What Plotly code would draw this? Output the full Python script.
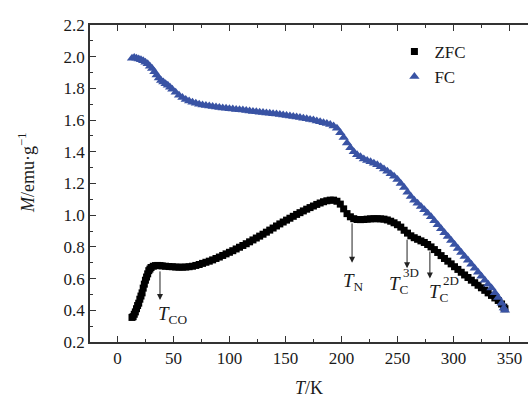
import plotly.graph_objects as go

# ZFC data (black squares)
zfc_T = [13,14,15,16,17,18,19,20,21,22,23,24,25,26,27,28,29,30,32,34,36,38,40,43,46,49,52,55,58,61,64,67,70,73,76,79,82,85,88,91,94,97,100,103,106,109,112,115,118,121,124,127,130,133,136,139,142,145,148,151,154,157,160,163,166,169,172,175,178,181,184,187,190,193,196,199,202,205,208,211,214,217,220,223,226,229,232,235,238,241,244,247,250,253,256,259,262,265,268,271,274,277,280,283,286,289,292,295,298,301,304,307,310,313,316,319,322,325,328,331,334,337,340,343,345,346]
zfc_M = [0.355,0.36,0.375,0.39,0.41,0.43,0.445,0.47,0.49,0.51,0.54,0.565,0.59,0.61,0.63,0.65,0.66,0.67,0.678,0.682,0.683,0.682,0.68,0.678,0.676,0.675,0.673,0.672,0.672,0.673,0.675,0.678,0.683,0.689,0.696,0.703,0.71,0.718,0.727,0.736,0.746,0.756,0.766,0.776,0.787,0.798,0.809,0.82,0.832,0.844,0.856,0.868,0.88,0.893,0.906,0.919,0.932,0.945,0.957,0.969,0.981,0.993,1.005,1.016,1.027,1.038,1.048,1.058,1.068,1.077,1.085,1.091,1.095,1.095,1.088,1.07,1.04,1.01,0.99,0.978,0.973,0.972,0.973,0.975,0.977,0.978,0.978,0.977,0.975,0.97,0.962,0.952,0.94,0.925,0.905,0.887,0.87,0.858,0.848,0.838,0.828,0.815,0.8,0.783,0.765,0.745,0.727,0.71,0.693,0.675,0.658,0.64,0.623,0.607,0.59,0.574,0.558,0.542,0.526,0.51,0.494,0.478,0.462,0.44,0.42,0.41]

# FC data (blue triangles)
fc_T = [13,15,17,19,21,23,25,27,29,31,33,35,37,39,41,43,45,47,49,52,55,58,61,64,67,70,73,76,79,82,85,88,91,94,97,100,103,106,109,112,115,118,121,124,127,130,133,136,139,142,145,148,151,154,157,160,163,166,169,172,175,178,181,184,187,190,193,196,199,202,205,208,211,214,217,220,223,226,229,232,235,238,241,244,247,250,253,256,259,262,265,268,271,274,277,280,283,286,289,292,295,298,301,304,307,310,313,316,319,322,325,328,331,334,337,340,343,345,346]
fc_M = [1.99,1.995,1.99,1.985,1.98,1.975,1.965,1.955,1.94,1.925,1.905,1.885,1.865,1.85,1.84,1.83,1.82,1.808,1.795,1.775,1.757,1.742,1.73,1.72,1.712,1.706,1.7,1.696,1.692,1.689,1.686,1.683,1.68,1.677,1.675,1.672,1.67,1.667,1.665,1.663,1.66,1.658,1.655,1.653,1.65,1.648,1.645,1.643,1.64,1.638,1.635,1.632,1.629,1.626,1.623,1.62,1.616,1.612,1.608,1.604,1.6,1.595,1.59,1.584,1.578,1.572,1.563,1.548,1.52,1.49,1.455,1.425,1.4,1.382,1.368,1.355,1.345,1.337,1.328,1.318,1.306,1.292,1.278,1.262,1.245,1.225,1.2,1.175,1.145,1.118,1.095,1.075,1.055,1.035,1.013,0.99,0.965,0.94,0.915,0.89,0.865,0.84,0.815,0.79,0.765,0.74,0.715,0.69,0.665,0.64,0.615,0.59,0.565,0.54,0.51,0.48,0.445,0.415,0.4]

x_ticks = [0, 50, 100, 150, 200, 250, 300, 350]
y_ticks = [0.2, 0.4, 0.6, 0.8, 1.0, 1.2, 1.4, 1.6, 1.8, 2.0, 2.2]
y_ticklabels = ["0.2", "0.4", "0.6", "0.8", "1.0", "1.2", "1.4", "1.6", "1.8", "2.0", "2.2"]

# transition markers: (name html, T, arrow tail M, arrow tip M, label T, label M, superscript)
transitions = [
    ("<i>T</i><sub>CO</sub>", 38, 0.655, 0.465, 49, 0.37, None),
    ("<i>T</i><sub>N</sub>", 209.5, 0.958, 0.70, 211, 0.58, None),
    ("<i>T</i><sub>C</sub>", 258.6, 0.855, 0.665, 251, 0.56, "3D"),
    ("<i>T</i><sub>C</sub>", 279, 0.78, 0.60, 287, 0.51, "2D"),
]

FONT = "Liberation Serif"
TXT = "#1a1a1a"

fig = go.Figure()
fig.add_trace(go.Scatter(x=zfc_T, y=zfc_M, mode="markers", name="ZFC",
                         marker=dict(symbol="square", size=7, color="black",
                                     line=dict(width=0))))
fig.add_trace(go.Scatter(x=fc_T, y=fc_M, mode="markers", name="FC",
                         marker=dict(symbol="triangle-up", size=9, color="#3953a4",
                                     line=dict(width=0))))

for name, T, m0, m1, lt, lm, sup in transitions:
    fig.add_annotation(x=T, y=m1, ax=T, ay=m0, xref="x", yref="y",
                       axref="x", ayref="y", text="", showarrow=True,
                       arrowhead=2, arrowsize=1.2, arrowwidth=1, arrowcolor="#222")
    fig.add_annotation(x=lt, y=lm, xref="x", yref="y", text=name, showarrow=False,
                       font=dict(family=FONT, size=19, color=TXT))
    if sup:
        fig.add_annotation(x=lt, y=lm, xref="x", yref="y", text=sup, showarrow=False,
                           xshift=12, yshift=12,
                           font=dict(family=FONT, size=13, color=TXT))

fig.add_annotation(x=-0.145, y=0.535, xref="paper", yref="paper",
                   text="<i>M</i>/emu·g<sup>−1</sup>", textangle=-90, showarrow=False,
                   xanchor="center", yanchor="middle",
                   font=dict(family=FONT, size=18, color=TXT))

axis_common = dict(showgrid=False, zeroline=False, showline=True, linecolor="#333",
                   linewidth=1.5, ticks="inside", ticklen=6, tickwidth=1.2,
                   tickcolor="#333",
                   tickfont=dict(family=FONT, size=17, color=TXT))

fig.update_xaxes(range=[-24.5, 366.6], tickvals=x_ticks, mirror="ticks",
                 minor=dict(dtick=25, tick0=0, ticks="inside", ticklen=3,
                            tickcolor="#333", tickwidth=1.2),
                 title=dict(text="<i>T</i>/K", font=dict(family=FONT, size=18, color=TXT),
                            standoff=14),
                 **axis_common)
fig.update_yaxes(range=[0.2, 2.2], tickvals=y_ticks, ticktext=y_ticklabels, mirror=False,
                 minor=dict(dtick=0.1, tick0=0.2, ticks="inside", ticklen=3,
                            tickcolor="#333", tickwidth=1.2),
                 **axis_common)

fig.update_layout(width=528, height=398, margin=dict(l=90, r=0, t=25, b=56),
                  plot_bgcolor="white", paper_bgcolor="white",
                  showlegend=True,
                  legend=dict(x=0.695, y=0.972, xanchor="left", yanchor="top",
                              bgcolor="rgba(0,0,0,0)", borderwidth=0,
                              font=dict(family=FONT, size=17, color=TXT),
                              tracegroupgap=0))

fig.write_html("out.html")
